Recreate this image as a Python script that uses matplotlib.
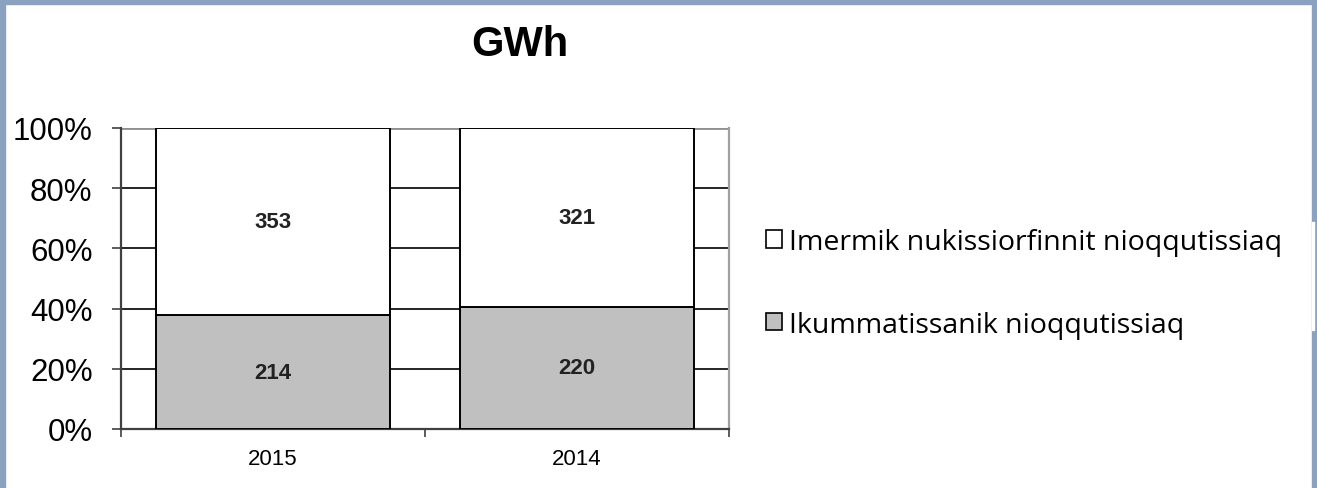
import matplotlib.pyplot as plt
from matplotlib.patches import Rectangle, Patch
import numpy as np

# Data
#-----
years      = ['2015', '2014']
ikummat    = np.array([214, 220])   # Ikummatissanik nioqqutissiaq
imermik    = np.array([353, 321])   # Imermik nukissiorfinnit nioqqutissiaq
labelLow   = 'Ikummatissanik nioqqutissiaq'
labelHigh  = 'Imermik nukissiorfinnit nioqqutissiaq'

total   = ikummat + imermik
pctLow  = ikummat / total * 100
pctHigh = imermik / total * 100

plt.rcParams['font.family'] = ['Liberation Sans', 'DejaVu Sans']

fig = plt.figure(figsize=(13.17, 4.89), dpi=100)
ax = fig.add_axes([121/1317, 59/489, 608/1317, 301/489])

x = np.arange(len(years))
ax.bar(x, pctLow, width=0.77, color='#c0c0c0', edgecolor='black', linewidth=1.4, zorder=3)
ax.bar(x, pctHigh, width=0.77, bottom=pctLow, color='white', edgecolor='black', linewidth=1.4, zorder=3)

for i in range(len(years)):
    ax.text(x[i], pctLow[i] / 2, str(ikummat[i]), ha='center', va='center',
            fontsize=16, fontweight='bold', color='#222222', zorder=4)
    ax.text(x[i], pctLow[i] + pctHigh[i] / 2, str(imermik[i]), ha='center', va='center',
            fontsize=16, fontweight='bold', color='#222222', zorder=4)

# axes styling
ax.set_xlim(-0.5, 1.5)
ax.set_ylim(0, 100)
ax.set_yticks(np.arange(0, 101, 20))
ax.set_yticklabels(['%d%%' % v for v in np.arange(0, 101, 20)], fontsize=22.5)
ax.set_xticks(x)
ax.set_xticklabels(years, fontsize=16)
ax.set_xticks([-0.5, 0.5, 1.5], minor=True)
ax.tick_params(axis='x', which='major', length=0, pad=14)
ax.tick_params(axis='x', which='minor', length=6, width=1.2, color='#404040')
ax.tick_params(axis='y', length=6.5, width=1.2, color='#404040', pad=14)

for yv in [20, 40, 60, 80]:
    ax.axhline(yv, color='black', linewidth=1.2, zorder=1)
ax.axhline(100, color='#909090', linewidth=2.0, zorder=1)

ax.spines['left'].set_color('#404040')
ax.spines['left'].set_linewidth(1.6)
ax.spines['bottom'].set_color('#404040')
ax.spines['bottom'].set_linewidth(1.6)
ax.spines['right'].set_color('#a0a0a0')
ax.spines['right'].set_linewidth(1.6)
ax.spines['top'].set_visible(False)

fig.text(520/1317, 1 - 45/489, 'GWh', ha='center', va='center', fontsize=30, fontweight='bold')

# legend
handles = [Patch(facecolor='white', edgecolor='black', linewidth=1.2),
           Patch(facecolor='#c0c0c0', edgecolor='black', linewidth=1.2)]
fig.legend(handles, [labelHigh, labelLow], loc='upper left',
           bbox_to_anchor=(766/1317, 1 - 229/489), frameon=False,
           prop={'family': 'Open Sans', 'size': 20.5},
           handlelength=0.55, handleheight=0.55, handletextpad=0.25,
           labelspacing=1.92, borderaxespad=0, borderpad=0)

# border around the picture
borderColor = '#8aa2bf'
fig.patches.append(Rectangle((0, 0), 5/1317, 1, transform=fig.transFigure, color=borderColor))
fig.patches.append(Rectangle((0, 1 - 5/489), 1, 5/489, transform=fig.transFigure, color=borderColor))
fig.patches.append(Rectangle((1312/1317, 0), 5/1317, 1, transform=fig.transFigure, color=borderColor))
fig.patches.append(Rectangle((1312/1317, 1 - 331/489), 2/1317, 108/489, transform=fig.transFigure,
                             color='white', zorder=5))

plt.savefig('out.png', dpi=100)
